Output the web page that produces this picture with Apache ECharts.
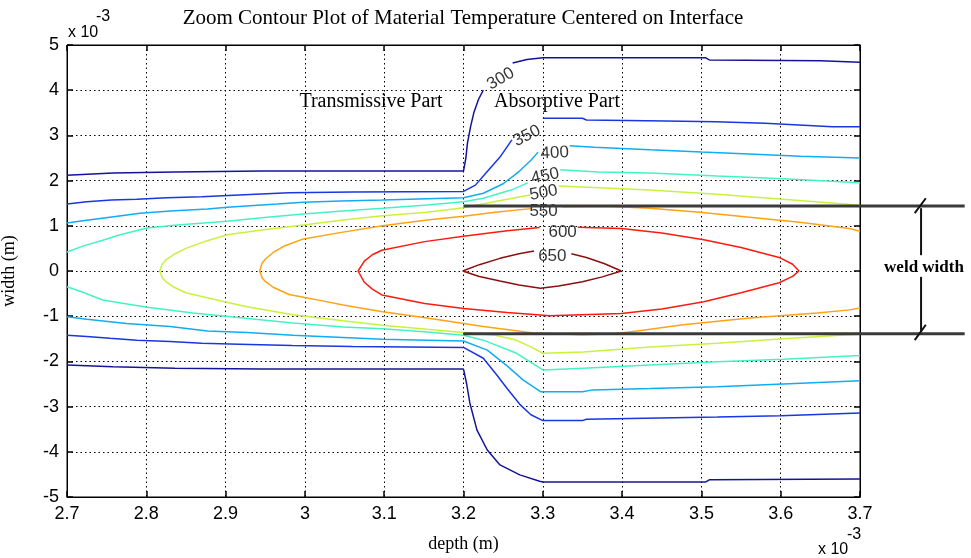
<!DOCTYPE html>
<html>
<head>
<meta charset="utf-8">
<script src="https://cdn.jsdelivr.net/npm/echarts@6/dist/echarts.min.js"></script>
<style>
html, body { margin: 0; padding: 0; background: #fff; }
#chart { width: 971px; height: 558px; }
</style>
</head>
<body>
<div id="chart"></div>
<script>
// contour lines, x = depth, y = width, both in 1e-3 m
// pieces end where MATLAB's clabel broke the line for its number

const c300Up = [[2.7, 2.12], [2.758, 2.17], [2.836, 2.19], [2.946, 2.21], [3.2, 2.21], [3.203, 2.5], [3.205, 2.83], [3.209, 3.2], [3.213, 3.5], [3.219, 3.8], [3.225, 4.0]]
const c300UpRight = [[3.262, 4.6], [3.28, 4.68], [3.3, 4.72], [3.505, 4.72], [3.51, 4.67], [3.65, 4.65], [3.7, 4.62]]
const c300Low = [[2.7, -2.08], [2.758, -2.12], [2.836, -2.15], [2.946, -2.17], [3.2, -2.17], [3.204, -2.5], [3.208, -2.92], [3.217, -3.52], [3.23, -3.96], [3.246, -4.29], [3.271, -4.51], [3.296, -4.65], [3.3, -4.67], [3.505, -4.67], [3.51, -4.62], [3.7, -4.6]]

const c350Up = [[2.7, 1.48], [2.725, 1.53], [2.756, 1.57], [2.788, 1.59], [2.826, 1.62], [2.87, 1.64], [2.917, 1.68], [2.98, 1.73], [3.06, 1.75], [3.2, 1.76], [3.215, 1.9], [3.23, 2.2], [3.246, 2.52], [3.261, 2.9]]
const c350UpRight = [[3.3, 3.38], [3.35, 3.38], [3.355, 3.34], [3.455, 3.32], [3.518, 3.3], [3.58, 3.27], [3.623, 3.23], [3.665, 3.19], [3.7, 3.19]]
const c350Low = [[2.7, -1.42], [2.725, -1.45], [2.754, -1.49], [2.788, -1.53], [2.83, -1.56], [2.87, -1.6], [2.917, -1.62], [2.984, -1.65], [3.06, -1.67], [3.2, -1.69], [3.225, -1.93], [3.242, -2.3], [3.255, -2.6], [3.271, -2.95], [3.285, -3.18], [3.3, -3.31], [3.35, -3.31], [3.355, -3.28], [3.52, -3.23], [3.6, -3.2], [3.7, -3.14]]

const c400Up = [[2.7, 1.06], [2.72, 1.11], [2.754, 1.19], [2.792, 1.28], [2.83, 1.33], [2.877, 1.37], [2.902, 1.41], [2.965, 1.48], [2.998, 1.52], [3.045, 1.55], [3.098, 1.57], [3.2, 1.62], [3.225, 1.72], [3.25, 1.93], [3.27, 2.2], [3.285, 2.45], [3.294, 2.63]]
const c400UpRight = [[3.334, 2.77], [3.365, 2.74], [3.435, 2.68], [3.5, 2.63], [3.56, 2.59], [3.625, 2.54], [3.7, 2.5]]
const c400Low = [[2.7, -1.01], [2.725, -1.07], [2.775, -1.16], [2.83, -1.23], [2.877, -1.33], [2.927, -1.36], [2.985, -1.42], [3.048, -1.47], [3.098, -1.51], [3.154, -1.53], [3.2, -1.55], [3.23, -1.75], [3.255, -2.1], [3.275, -2.41], [3.297, -2.67], [3.35, -2.67], [3.363, -2.63], [3.435, -2.6], [3.52, -2.56], [3.603, -2.5], [3.7, -2.43]]

const c450Up = [[2.7, 0.42], [2.72, 0.55], [2.745, 0.68], [2.767, 0.8], [2.801, 0.95], [2.839, 1.02], [2.902, 1.1], [2.952, 1.19], [2.998, 1.26], [3.048, 1.33], [3.098, 1.39], [3.154, 1.46], [3.2, 1.53], [3.225, 1.61], [3.26, 1.79], [3.281, 1.95]]
const c450UpRight = [[3.322, 2.24], [3.37, 2.19], [3.435, 2.17], [3.52, 2.1], [3.603, 2.04], [3.7, 1.95]]
const c450Low = [[2.7, -0.35], [2.72, -0.47], [2.745, -0.64], [2.801, -0.8], [2.859, -0.93], [2.922, -1.04], [2.985, -1.15], [3.048, -1.24], [3.098, -1.28], [3.154, -1.35], [3.2, -1.42], [3.225, -1.53], [3.267, -1.82], [3.3, -2.19], [3.351, -2.15], [3.435, -2.08], [3.52, -2.01], [3.603, -1.95], [3.7, -1.87]]

const c500Up = [[2.817, 0], [2.82, 0.15], [2.825, 0.25], [2.835, 0.37], [2.85, 0.5], [2.875, 0.66], [2.902, 0.8], [2.943, 0.9], [2.998, 1.02], [3.048, 1.13], [3.098, 1.22], [3.154, 1.3], [3.2, 1.4], [3.25, 1.57], [3.284, 1.68]]
const c500UpRight = [[3.32, 1.88], [3.35, 1.86], [3.435, 1.79], [3.52, 1.7], [3.603, 1.59], [3.68, 1.48], [3.7, 1.45]]
const c500Low = [[2.817, 0], [2.82, -0.15], [2.825, -0.24], [2.835, -0.36], [2.85, -0.48], [2.889, -0.64], [2.927, -0.79], [2.985, -0.97], [3.048, -1.1], [3.098, -1.2], [3.154, -1.29], [3.2, -1.36], [3.24, -1.42], [3.265, -1.52], [3.285, -1.68], [3.3, -1.82], [3.351, -1.79], [3.435, -1.68], [3.52, -1.6], [3.603, -1.5], [3.675, -1.42], [3.7, -1.4]]

const c550Up = [[2.943, 0], [2.946, 0.17], [2.95, 0.26], [2.96, 0.41], [2.975, 0.56], [2.998, 0.71], [3.048, 0.86], [3.098, 1.0], [3.154, 1.13], [3.2, 1.21], [3.24, 1.3], [3.285, 1.38]]
const c550UpRight = [[3.325, 1.42], [3.38, 1.43], [3.435, 1.39], [3.498, 1.3], [3.561, 1.19], [3.624, 1.08], [3.687, 0.94], [3.7, 0.88]]
const c550Low = [[2.943, 0], [2.946, -0.15], [2.95, -0.23], [2.96, -0.36], [2.98, -0.52], [2.998, -0.58], [3.019, -0.65], [3.048, -0.75], [3.098, -0.9], [3.154, -1.04], [3.196, -1.15], [3.225, -1.23], [3.288, -1.37], [3.35, -1.41], [3.39, -1.39], [3.419, -1.33], [3.477, -1.19], [3.561, -1.04], [3.646, -0.93], [3.687, -0.86], [3.7, -0.82]]

const c600Up = [[3.067, 0], [3.075, 0.22], [3.085, 0.36], [3.097, 0.46], [3.151, 0.65], [3.2, 0.77], [3.255, 0.89], [3.296, 0.96]]
const c600UpRight = [[3.344, 0.97], [3.399, 0.94], [3.45, 0.84], [3.503, 0.69], [3.55, 0.52], [3.598, 0.3], [3.615, 0.15], [3.623, 0]]
const c600Low = [[3.623, 0], [3.615, -0.12], [3.598, -0.26], [3.55, -0.48], [3.503, -0.68], [3.45, -0.84], [3.399, -0.94], [3.309, -0.99], [3.255, -0.92], [3.2, -0.83], [3.151, -0.72], [3.097, -0.53], [3.085, -0.4], [3.075, -0.25], [3.067, 0]]

const c650Up = [[3.199, 0], [3.22, 0.14], [3.246, 0.28], [3.27, 0.38], [3.289, 0.44]]
const c650UpRight = [[3.336, 0.38], [3.355, 0.3], [3.378, 0.16], [3.399, 0]]
const c650Low = [[3.399, 0], [3.375, -0.13], [3.35, -0.24], [3.32, -0.33], [3.297, -0.38], [3.27, -0.31], [3.246, -0.22], [3.22, -0.12], [3.199, 0]]

// contour numbers
const labelText = ['300', '350', '400', '450', '500', '550', '600', '650']
const labelX = [3.247, 3.28, 3.315, 3.303, 3.301, 3.301, 3.325, 3.312]
const labelY = [4.25, 2.99, 2.61, 2.1, 1.73, 1.31, 0.86, 0.33]

// weld width marker
const weldTop = 1.44
const weldBottom = -1.39
const weldStartX = 3.2
const weldEndX = 3.832
const weldArrowX = 3.777

const xTicks = { min: 2.7, max: 3.7, step: 0.1 }
const yTicks = { min: -5, max: 5, step: 1 }

const levelColor = {
  300: '#14149a',
  350: '#1a36e0',
  400: '#10acf4',
  450: '#44f2c4',
  500: '#c8f23c',
  550: '#ffa214',
  600: '#ff1a10',
  650: '#8a1010'
}
const labelRotate = [30, 27, 3, 12, 10, 0, 0, 0]

const pieces = [
  [300, c300Up], [300, c300UpRight], [300, c300Low],
  [350, c350Up], [350, c350UpRight], [350, c350Low],
  [400, c400Up], [400, c400UpRight], [400, c400Low],
  [450, c450Up], [450, c450UpRight], [450, c450Low],
  [500, c500Low.slice().reverse().concat(c500Up.slice(1))], [500, c500UpRight],
  [550, c550Low.slice().reverse().concat(c550Up.slice(1))], [550, c550UpRight],
  [600, c600UpRight.concat(c600Low.slice(1), c600Up.slice(1))],
  [650, c650UpRight.concat(c650Low.slice(1), c650Up.slice(1))]
]

const fmt = v => String(Number(v.toFixed(1)))
const serif = '"Liberation Serif", "Times New Roman", serif'
const sans = '"Liberation Sans", Arial, sans-serif'

const series = pieces.map(([level, data]) => ({
  type: 'line',
  data: data,
  showSymbol: false,
  symbol: 'none',
  silent: true,
  z: 2,
  lineStyle: { color: levelColor[level], width: 1.5 }
}))

series.push({
  type: 'scatter',
  symbolSize: 1,
  itemStyle: { color: 'rgba(0,0,0,0)' },
  z: 4,
  data: labelText.map((t, i) => ({
    value: [labelX[i], labelY[i], t],
    label: { rotate: labelRotate[i] }
  })),
  label: {
    show: true,
    position: 'inside',
    formatter: p => p.value[2],
    color: '#000',
    fontFamily: sans,
    fontSize: 17
  }
})

const gridLine = { show: true, lineStyle: { color: '#000', type: [1.5, 3], width: 1 } }
const axisLine = { show: true, onZero: false, lineStyle: { color: '#000', width: 1 } }
const tick = { show: true, inside: true, length: 6, lineStyle: { color: '#000', width: 1.5 } }

const texts = [
  {
    type: 'text', x: 463, y: 18,
    style: { text: 'Zoom Contour Plot of Material Temperature Centered on Interface', font: '21px ' + serif, fill: '#000', align: 'center', verticalAlign: 'middle' }
  },
  {
    type: 'text', x: 371, y: 102,
    style: { text: 'Transmissive Part', font: '20px ' + serif, fill: '#000', align: 'center', verticalAlign: 'middle' }
  },
  {
    type: 'text', x: 557, y: 102,
    style: { text: 'Absorptive Part', font: '20px ' + serif, fill: '#000', align: 'center', verticalAlign: 'middle' }
  },
  {
    type: 'text', x: 924, y: 268,
    style: { text: 'weld width', font: 'bold 17px ' + serif, fill: '#000', align: 'center', verticalAlign: 'middle' }
  },
  {
    type: 'text', x: 68, y: 33,
    style: { text: 'x 10', font: '16px ' + sans, fill: '#000', align: 'left', verticalAlign: 'middle' }
  },
  {
    type: 'text', x: 96, y: 17,
    style: { text: '-3', font: '16px ' + sans, fill: '#000', align: 'left', verticalAlign: 'middle' }
  },
  {
    type: 'text', x: 818, y: 550,
    style: { text: 'x 10', font: '16px ' + sans, fill: '#000', align: 'left', verticalAlign: 'middle' }
  },
  {
    type: 'text', x: 847, y: 535,
    style: { text: '-3', font: '16px ' + sans, fill: '#000', align: 'left', verticalAlign: 'middle' }
  }
]

const option = {
  animation: false,
  backgroundColor: '#fff',
  grid: { left: 67, right: 111, top: 45, bottom: 61, outerBoundsMode: 'none', containLabel: false, show: true, borderColor: '#000', borderWidth: 1 },
  xAxis: [
    {
      type: 'value', min: xTicks.min, max: xTicks.max, interval: xTicks.step,
      axisLine, axisTick: tick, splitLine: gridLine,
      axisLabel: { formatter: fmt, color: '#000', fontFamily: sans, fontSize: 18, margin: 8 },
      name: 'depth (m)', nameLocation: 'middle', nameGap: 38,
      nameTextStyle: { fontFamily: serif, fontSize: 18, color: '#000' }
    },
    {
      type: 'value', position: 'top', min: xTicks.min, max: xTicks.max, interval: xTicks.step,
      axisLine, axisTick: tick, splitLine: { show: false }, axisLabel: { show: false }
    }
  ],
  yAxis: [
    {
      type: 'value', min: yTicks.min, max: yTicks.max, interval: yTicks.step,
      axisLine, axisTick: tick, splitLine: gridLine,
      axisLabel: { formatter: fmt, color: '#000', fontFamily: sans, fontSize: 18, margin: 8 },
      name: 'width (m)', nameLocation: 'middle', nameGap: 49,
      nameTextStyle: { fontFamily: serif, fontSize: 18, color: '#000' }
    },
    {
      type: 'value', position: 'right', min: yTicks.min, max: yTicks.max, interval: yTicks.step,
      axisLine, axisTick: tick, splitLine: { show: false }, axisLabel: { show: false }
    }
  ],
  graphic: texts,
  series: series
}

const chart = echarts.init(document.getElementById('chart'))
chart.setOption(option)

// the weld marker runs past the plot box, so it is placed with the axes' own scale
const px = p => chart.convertToPixel({ xAxisIndex: 0, yAxisIndex: 0 }, p)
const seg = (a, b, style) => {
  const p1 = px(a)
  const p2 = px(b)
  return { type: 'line', z: 50, shape: { x1: p1[0], y1: p1[1], x2: p2[0], y2: p2[1] }, style: style }
}
const weldStyle = { stroke: '#3a3a3a', lineWidth: 3 }
const markStyle = { stroke: '#111', lineWidth: 2 }
chart.setOption({
  graphic: texts.concat([
    seg([weldStartX, weldTop], [weldEndX, weldTop], weldStyle),
    seg([weldStartX, weldBottom], [weldEndX, weldBottom], weldStyle),
    seg([weldArrowX, weldTop - 0.05], [weldArrowX, 0.35], markStyle),
    seg([weldArrowX, -0.13], [weldArrowX, weldBottom + 0.04], markStyle),
    seg([weldArrowX - 0.008, weldTop - 0.16], [weldArrowX + 0.006, weldTop + 0.17], markStyle),
    seg([weldArrowX - 0.008, weldBottom - 0.14], [weldArrowX + 0.006, weldBottom + 0.2], markStyle)
  ])
})
</script>
</body>
</html>
